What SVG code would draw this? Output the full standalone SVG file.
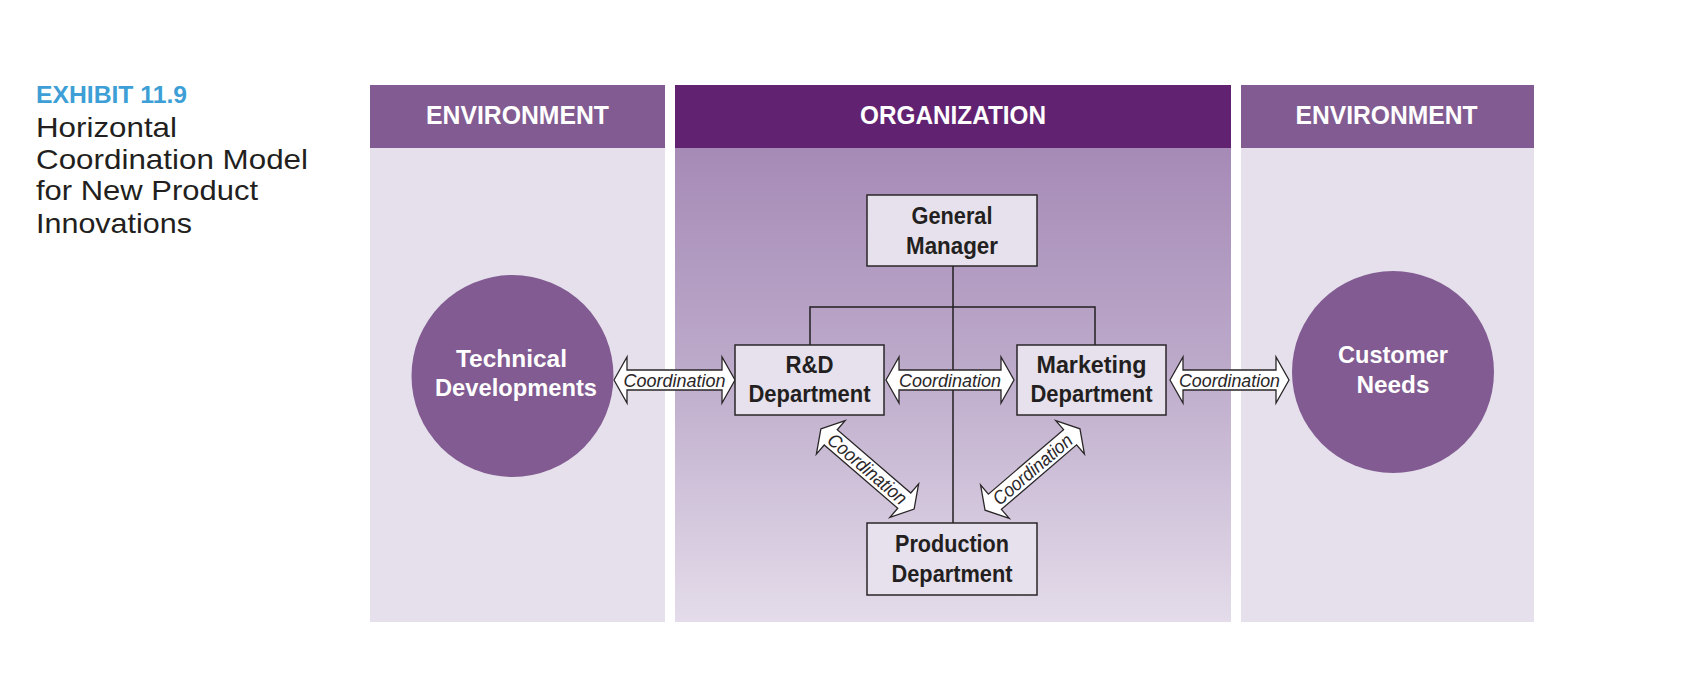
<svg xmlns="http://www.w3.org/2000/svg" width="1696" height="674" viewBox="0 0 1696 674">
<defs>
<linearGradient id="orgGrad" x1="0" y1="0" x2="0" y2="1">
<stop offset="0" stop-color="#9f81b1"/>
<stop offset="0.5" stop-color="#bba8c9"/>
<stop offset="1" stop-color="#e4dcea"/>
</linearGradient>
</defs>
<style>
.title{font-family:"Liberation Sans",Arial,sans-serif;font-size:28px;fill:#231f20}
.exh{font-family:"Liberation Sans",Arial,sans-serif;font-size:24px;font-weight:bold;fill:#3d9fd5}
.hdr{font-family:"Liberation Sans",Arial,sans-serif;font-size:25px;font-weight:bold;fill:#ffffff;text-anchor:middle}
.envHead{fill:#815b91}
.envBody{fill:#e5e0eb}
.orgHead{fill:#612371}
.box{fill:#e6e1ec;stroke:#2a2628;stroke-width:1.5}
.lbl{font-family:"Liberation Sans",Arial,sans-serif;font-size:24px;font-weight:bold;fill:#231f20;text-anchor:middle}
.circ{fill:#815b91}
.clbl{font-family:"Liberation Sans",Arial,sans-serif;font-size:24px;font-weight:bold;fill:#ffffff;text-anchor:middle}
.line{stroke:#231f20;stroke-width:1.5;fill:none}
.arr{fill:#ffffff;stroke:#2a2628;stroke-width:1.3;stroke-linejoin:miter}
.coord{font-family:"Liberation Sans",Arial,sans-serif;font-size:19px;font-style:italic;fill:#2a2628;text-anchor:middle}
</style>
<rect width="1696" height="674" fill="#ffffff"/>
<g id="title">
<text class="exh" x="36" y="103" textLength="151" lengthAdjust="spacingAndGlyphs">EXHIBIT 11.9</text>
<text class="title" x="36" y="137" textLength="141" lengthAdjust="spacingAndGlyphs">Horizontal</text>
<text class="title" x="36" y="169" textLength="272" lengthAdjust="spacingAndGlyphs">Coordination Model</text>
<text class="title" x="36" y="200" textLength="222" lengthAdjust="spacingAndGlyphs">for New Product</text>
<text class="title" x="36" y="233" textLength="156" lengthAdjust="spacingAndGlyphs">Innovations</text>
</g>
<g id="panels">
<rect class="envBody" x="370" y="85" width="295" height="537"/>
<rect class="envHead" x="370" y="85" width="295" height="63"/>
<text class="hdr" x="517.5" y="124" textLength="183" lengthAdjust="spacingAndGlyphs">ENVIRONMENT</text>
<rect fill="url(#orgGrad)" x="675" y="85" width="556" height="537"/>
<rect class="orgHead" x="675" y="85" width="556" height="63"/>
<text class="hdr" x="953" y="124" textLength="186" lengthAdjust="spacingAndGlyphs">ORGANIZATION</text>
<rect class="envBody" x="1241" y="85" width="293" height="537"/>
<rect class="envHead" x="1241" y="85" width="293" height="63"/>
<text class="hdr" x="1386.5" y="124" textLength="182" lengthAdjust="spacingAndGlyphs">ENVIRONMENT</text>
</g>
<g id="connectors">
<path class="line" d="M953,266 V523 M810,345 V307 H1095 V345"/>
<g transform="translate(674.5,380)">
<path class="arr" d="M-60.5,0 L-47.5,-23 L-47.5,-10 L47.5,-10 L47.5,-23 L60.5,0 L47.5,23 L47.5,10 L-47.5,10 L-47.5,23 Z"/>
<text class="coord" x="0" y="6.5" textLength="102" lengthAdjust="spacingAndGlyphs">Coordination</text>
</g>
<g transform="translate(950,380)">
<path class="arr" d="M-64,0 L-51,-23 L-51,-10 L51,-10 L51,-23 L64,0 L51,23 L51,10 L-51,10 L-51,23 Z"/>
<text class="coord" x="0" y="6.5" textLength="102" lengthAdjust="spacingAndGlyphs">Coordination</text>
</g>
<g transform="translate(1229.5,380)">
<path class="arr" d="M-59.5,0 L-46.5,-23 L-46.5,-10 L46.5,-10 L46.5,-23 L59.5,0 L46.5,23 L46.5,10 L-46.5,10 L-46.5,23 Z"/>
<text class="coord" x="0" y="6.5" textLength="101" lengthAdjust="spacingAndGlyphs">Coordination</text>
</g>
<g transform="translate(867.5,469) rotate(40.7)">
<path class="arr" d="M-61.5,0 L-48.5,-22 L-48.5,-10 L48.5,-10 L48.5,-22 L61.5,0 L48.5,22 L48.5,10 L-48.5,10 L-48.5,22 Z"/>
<text class="coord" x="0" y="6.5" textLength="98" lengthAdjust="spacingAndGlyphs">Coordination</text>
</g>
<g transform="translate(1032.5,469.5) rotate(-40.6)">
<path class="arr" d="M-62.5,0 L-49.5,-22 L-49.5,-10 L49.5,-10 L49.5,-22 L62.5,0 L49.5,22 L49.5,10 L-49.5,10 L-49.5,22 Z"/>
<text class="coord" x="0" y="6.5" textLength="98" lengthAdjust="spacingAndGlyphs">Coordination</text>
</g>
</g>
<g id="gm">
<rect class="box" x="867" y="195" width="170" height="71"/>
<text class="lbl" x="952" y="224" textLength="81" lengthAdjust="spacingAndGlyphs">General</text>
<text class="lbl" x="952" y="254" textLength="92" lengthAdjust="spacingAndGlyphs">Manager</text>
</g>
<g id="rd">
<rect class="box" x="735" y="345" width="149" height="70"/>
<text class="lbl" x="809.5" y="373" textLength="48" lengthAdjust="spacingAndGlyphs">R&amp;D</text>
<text class="lbl" x="809.5" y="402" textLength="122" lengthAdjust="spacingAndGlyphs">Department</text>
</g>
<g id="mkt">
<rect class="box" x="1017" y="345" width="149" height="70"/>
<text class="lbl" x="1091.5" y="373" textLength="110" lengthAdjust="spacingAndGlyphs">Marketing</text>
<text class="lbl" x="1091.5" y="402" textLength="122" lengthAdjust="spacingAndGlyphs">Department</text>
</g>
<g id="prod">
<rect class="box" x="867" y="523" width="170" height="72"/>
<text class="lbl" x="952" y="552" textLength="114" lengthAdjust="spacingAndGlyphs">Production</text>
<text class="lbl" x="952" y="582" textLength="121" lengthAdjust="spacingAndGlyphs">Department</text>
</g>
<g id="tech">
<circle class="circ" cx="512.5" cy="376" r="101"/>
<text class="clbl" x="511.5" y="367" textLength="111" lengthAdjust="spacingAndGlyphs">Technical</text>
<text class="clbl" x="516" y="396" textLength="162" lengthAdjust="spacingAndGlyphs">Developments</text>
</g>
<g id="cust">
<circle class="circ" cx="1393" cy="372" r="101"/>
<text class="clbl" x="1393" y="363" textLength="110" lengthAdjust="spacingAndGlyphs">Customer</text>
<text class="clbl" x="1393" y="393" textLength="73" lengthAdjust="spacingAndGlyphs">Needs</text>
</g>
</svg>
